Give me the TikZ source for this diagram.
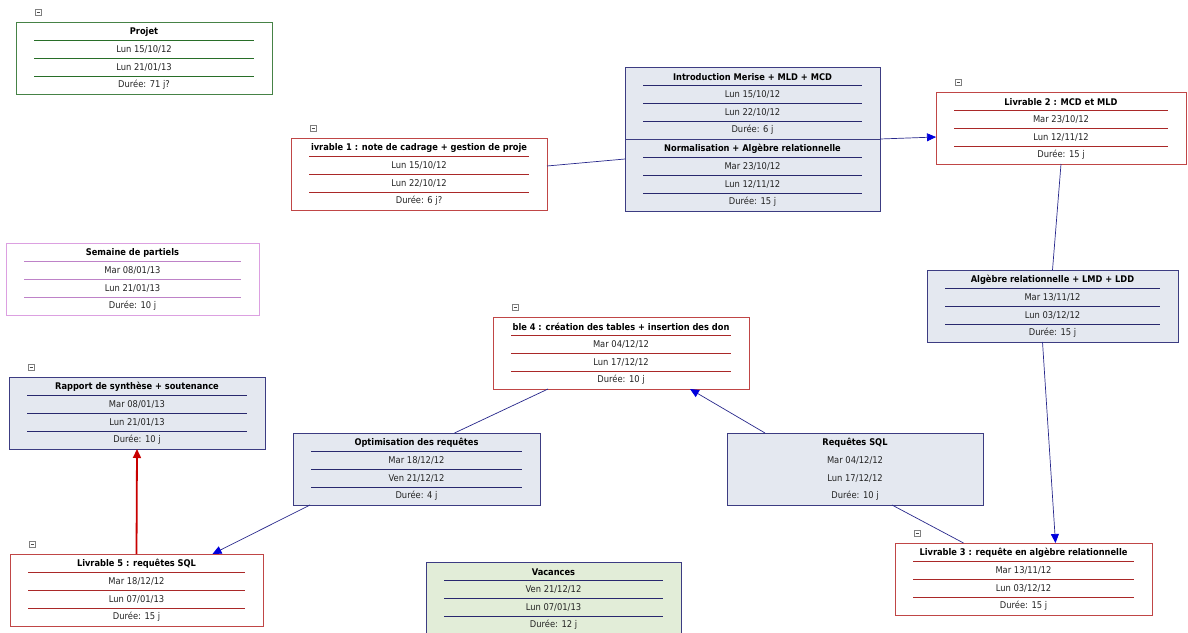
\documentclass[tikz,border=0pt]{standalone}
\usepackage{fontspec}
\setmainfont{DejaVu Sans Condensed}
\usetikzlibrary{arrows.meta,calc}
\definecolor{redb}{RGB}{192,70,70}
\definecolor{redl}{RGB}{170,40,40}
\definecolor{greenb}{RGB}{70,130,70}
\definecolor{greenl}{RGB}{40,110,40}
\definecolor{blueb}{RGB}{60,60,130}
\definecolor{bluel}{RGB}{40,40,110}
\definecolor{pinkb}{RGB}{220,160,225}
\definecolor{pinkl}{RGB}{190,130,200}
\definecolor{bluefill}{RGB}{228,232,240}
\definecolor{greenfill}{RGB}{226,237,216}
\definecolor{conn}{RGB}{40,40,140}
\definecolor{tipblue}{RGB}{0,0,220}
\definecolor{arrred}{RGB}{200,0,0}
\definecolor{txtc}{RGB}{35,35,35}
\newcommand\tbox[9]{%
  \node[#5box, anchor=north west, minimum width=#4pt, minimum height=72pt] (#1) at (#2,#3) {};
  \foreach \k in {18,36,54}
    \draw[#5line] ([xshift=18pt,yshift=-1pt*\k]#1.north west) -- ([xshift=-18pt,yshift=-1pt*\k]#1.north east);
  \node[ttl] (#1-t) at ([yshift=-10pt]#1.north) {#6};
  \node[dt] (#1-a) at ([yshift=-27pt]#1.north) {#7};
  \node[dt] (#1-b) at ([yshift=-45pt]#1.north) {#8};
  \node[dt] (#1-c) at ([yshift=-63pt]#1.north) {#9};
}
\newcommand\collapseicon[1]{%
  \node[icn] (#1-i) at ([xshift=22pt,yshift=10pt]#1.north west) {};
}
\begin{document}
\begin{tikzpicture}[x=1pt,y=-1pt,
  basebox/.style={rectangle, inner sep=0pt, outer sep=0pt, line width=0.9pt},
  redbox/.style={basebox, draw=redb, fill=white},
  redline/.style={draw=redl, line width=0.8pt},
  greenbox/.style={basebox, draw=greenb, fill=white},
  greenline/.style={draw=greenl, line width=0.8pt},
  bluebox/.style={basebox, draw=blueb, fill=bluefill},
  blueline/.style={draw=bluel, line width=0.8pt},
  pinkbox/.style={basebox, draw=pinkb, fill=white},
  pinkline/.style={draw=pinkl, line width=0.8pt},
  sqlbox/.style={basebox, draw=blueb, fill=bluefill},
  sqlline/.style={draw=none},
  vacbox/.style={basebox, draw=blueb, fill=greenfill},
  vacline/.style={draw=bluel, line width=0.8pt},
  ttl/.style={font=\fontsize{9.2}{10}\selectfont\bfseries, text=black, inner sep=0pt},
  dt/.style={font=\fontsize{9.3}{10}\selectfont, text=txtc, inner sep=0pt},
  icn/.style={draw=gray, fill=white, minimum size=6pt, inner sep=0pt,
    path picture={\draw[black!70] ([xshift=1.5pt]path picture bounding box.west) -- ([xshift=-1.5pt]path picture bounding box.east);}},
  link/.style={draw=conn, line width=0.7pt},
  arr/.style={link, -{Triangle[length=9pt,width=8pt,fill=tipblue,color=tipblue]}},
  redarr/.style={draw=arrred, line width=1.8pt, -{Triangle[length=9pt,width=8pt]}}
]
\clip (0,0) rectangle (1188,632);
\fill[white] (0,0) rectangle (1188,632);

\tbox{proj}{16}{22}{256}{green}{Projet}{Lun 15/10/12}{Lun 21/01/13}{Durée: 71 j?}
\collapseicon{proj}
\tbox{liv1}{291}{138}{256}{red}{ivrable 1 : note de cadrage + gestion de proje}{Lun 15/10/12}{Lun 22/10/12}{Durée: 6 j?}
\collapseicon{liv1}
\tbox{intro}{625}{67}{255}{blue}{Introduction Merise + MLD + MCD}{Lun 15/10/12}{Lun 22/10/12}{Durée: 6 j}
\tbox{norm}{625}{139}{255}{blue}{Normalisation + Algèbre relationnelle}{Mar 23/10/12}{Lun 12/11/12}{Durée: 15 j}
\tbox{liv2}{936}{92}{250}{red}{Livrable 2 : MCD et MLD}{Mar 23/10/12}{Lun 12/11/12}{Durée: 15 j}
\collapseicon{liv2}
\tbox{sem}{6}{243}{253}{pink}{Semaine de partiels}{Mar 08/01/13}{Lun 21/01/13}{Durée: 10 j}
\tbox{ble}{493}{317}{256}{red}{ble 4 : création des tables + insertion des don}{Mar 04/12/12}{Lun 17/12/12}{Durée: 10 j}
\collapseicon{ble}
\tbox{alg}{927}{270}{251}{blue}{Algèbre relationnelle + LMD + LDD}{Mar 13/11/12}{Lun 03/12/12}{Durée: 15 j}
\tbox{rap}{9}{377}{256}{blue}{Rapport de synthèse + soutenance}{Mar 08/01/13}{Lun 21/01/13}{Durée: 10 j}
\collapseicon{rap}
\tbox{opt}{293}{433}{247}{blue}{Optimisation des requêtes}{Mar 18/12/12}{Ven 21/12/12}{Durée: 4 j}
\tbox{sql}{727}{433}{256}{sql}{Requêtes SQL}{Mar 04/12/12}{Lun 17/12/12}{Durée: 10 j}
\tbox{liv5}{10}{554}{253}{red}{Livrable 5 : requêtes SQL}{Mar 18/12/12}{Lun 07/01/13}{Durée: 15 j}
\collapseicon{liv5}
\tbox{vac}{426}{562}{255}{vac}{Vacances}{Ven 21/12/12}{Lun 07/01/13}{Durée: 12 j}
\tbox{liv3}{895}{543}{257}{red}{Livrable 3 : requête en algèbre relationnelle}{Mar 13/11/12}{Lun 03/12/12}{Durée: 15 j}
\collapseicon{liv3}

% connectors
\draw[link] ([yshift=8pt]liv1.east) -- ([yshift=16pt]norm.west);
\draw[arr] (intro.south east) -- ([yshift=-9pt]liv2.west);
\draw[link] (liv2.south) -- (alg.north);
\draw[arr] ([xshift=-10pt]alg.south) -- ([xshift=32pt]liv3.north);
\draw[link] ([xshift=37pt]sql.south) -- ([xshift=-60pt]liv3.north);
\draw[arr] ([xshift=-90pt]sql.north) -- ([xshift=69pt]ble.south);
\draw[link] ([xshift=-73pt]ble.south) -- ([xshift=38pt]opt.south |- opt.north);
\draw[arr] ([xshift=17pt]opt.south west) -- ([xshift=76pt]liv5.north);
\draw[redarr] (liv5.north) -- (rap.south);
\end{tikzpicture}
\end{document}
